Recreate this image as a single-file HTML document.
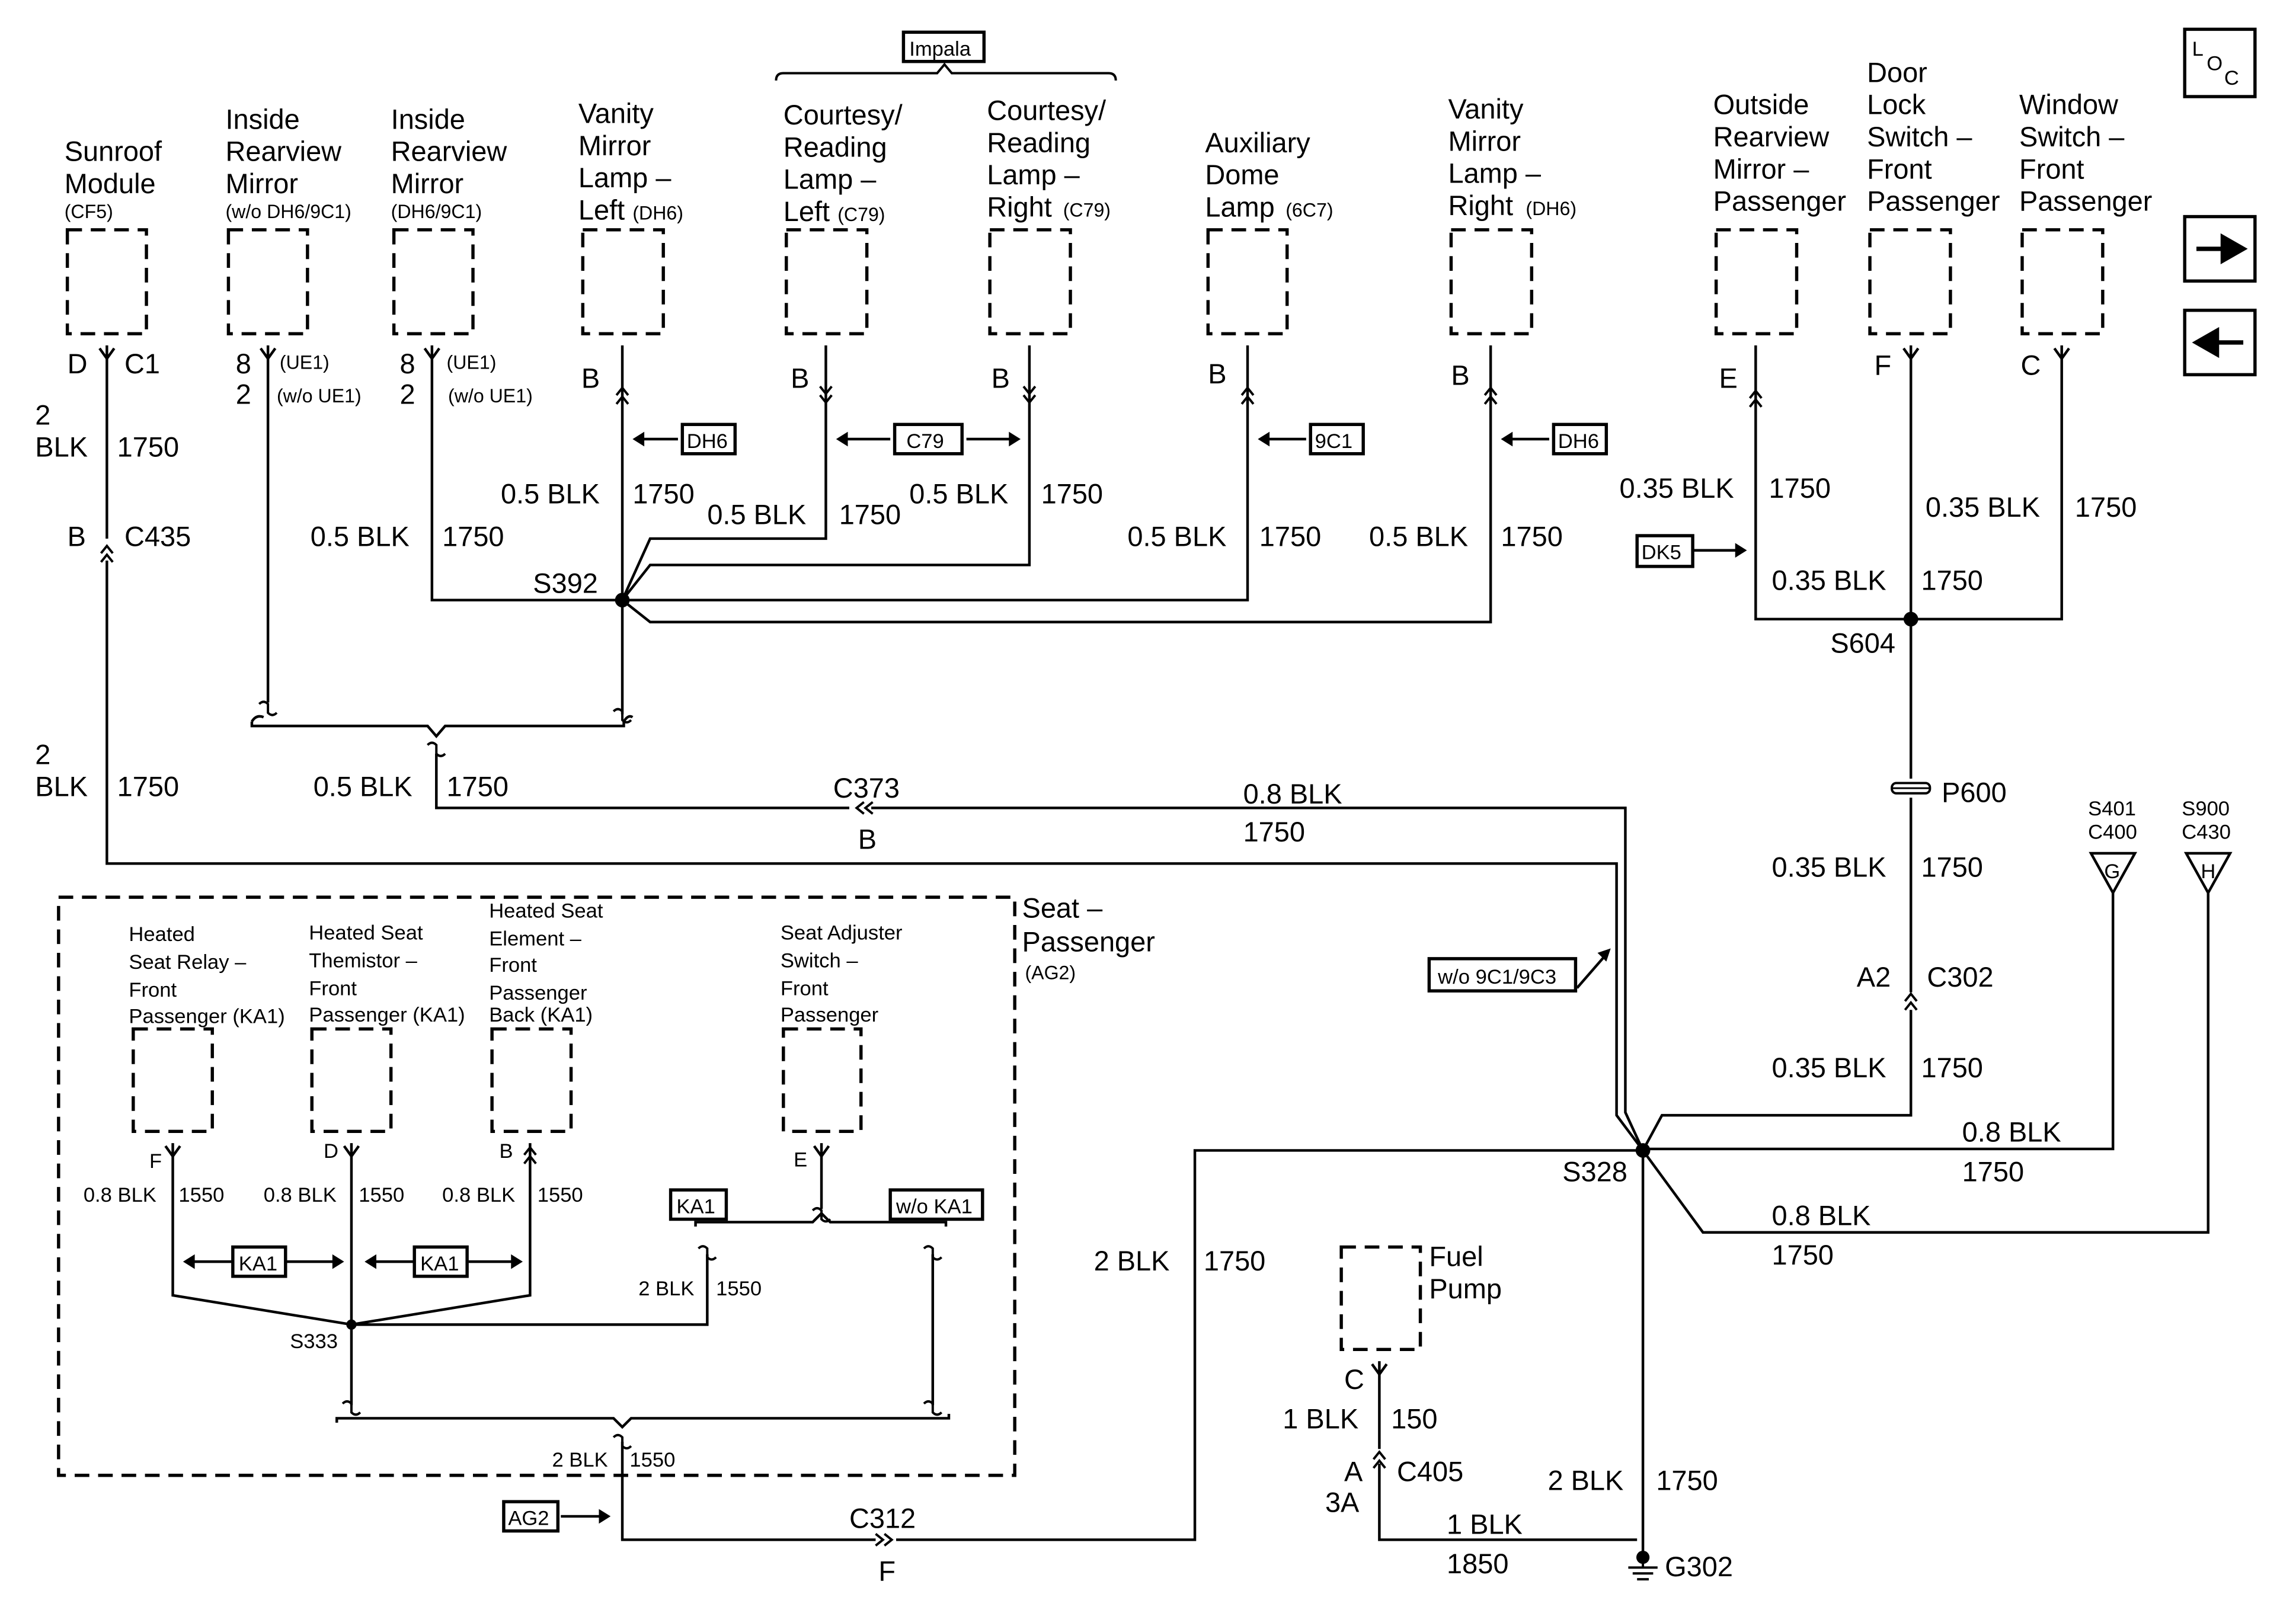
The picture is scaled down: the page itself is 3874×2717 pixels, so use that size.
<!DOCTYPE html>
<html><head><meta charset="utf-8"><style>
html,body{margin:0;padding:0;background:#fff;}
svg{display:block;}
text{font-family:"Liberation Sans",Arial,sans-serif;fill:#000;}
.b{font-size:19px;}
.s{font-size:13px;}
.m{font-size:14px;}
</style></head><body>
<svg width="3874" height="2717" viewBox="0 0 1568 1100" preserveAspectRatio="none" xmlns="http://www.w3.org/2000/svg">
<defs>
<g id="fy"><path d="M-5,-7 L0,0 L5,-7" fill="none" stroke="#000" stroke-width="1.8"/></g>
<g id="up2"><path d="M-4,4 L0,-1 L4,4 M-4,10 L0,5 L4,10" fill="none" stroke="#000" stroke-width="1.6"/></g>
<g id="dn2"><path d="M-4,-4 L0,1 L4,-4 M-4,-10 L0,-5 L4,-10" fill="none" stroke="#000" stroke-width="1.6"/></g>
<g id="lt2"><path d="M4,-4 L-1,0 L4,4 M10,-4 L5,0 L10,4" fill="none" stroke="#000" stroke-width="1.6"/></g>
<g id="rt2"><path d="M-4,-4 L1,0 L-4,4 M-10,-4 L-5,0 L-10,4" fill="none" stroke="#000" stroke-width="1.6"/></g>
<g id="brk"><path d="M-6,-3 Q-3,-6 0,-3 Q0,0 0,3 Q3,6 6,3" fill="none" stroke="#000" stroke-width="1.6"/></g>
</defs>
<g fill="none" stroke="#000" stroke-width="2.2" stroke-dasharray="10,6">
<rect x="46" y="157" width="54" height="71"/>
<rect x="156" y="157" width="54" height="71"/>
<rect x="269" y="157" width="54" height="71"/>
<rect x="398" y="157" width="55" height="71"/>
<rect x="537" y="157" width="55" height="71"/>
<rect x="676" y="157" width="55" height="71"/>
<rect x="825" y="157" width="54" height="71"/>
<rect x="991" y="157" width="55" height="71"/>
<rect x="1172" y="157" width="55" height="71"/>
<rect x="1277" y="157" width="55" height="71"/>
<rect x="1381" y="157" width="55" height="71"/>
<rect x="40" y="613" width="653" height="395"/>
<rect x="91" y="703" width="54" height="70"/>
<rect x="213" y="703" width="54" height="70"/>
<rect x="336" y="703" width="54" height="70"/>
<rect x="535" y="703" width="53" height="70"/>
<rect x="916" y="852" width="54" height="70"/>
</g>
<g fill="none" stroke="#000" stroke-width="1.8">
<path d="M73,236 V368 M73,383 V590 H1104 V762 L1122,786"/>
<path d="M183,236 V480"/>
<path d="M295,236 V410 H425"/>
<path d="M425,236 V488"/>
<path d="M564,236 V368 H444 L425,410"/>
<path d="M703,236 V386 H444 L425,410"/>
<path d="M852,236 V410 H425"/>
<path d="M1018,236 V425 H444 L425,410"/>
<path d="M172,493 Q175,488 180,490 M172,493 V496 H292 L298,503 L304,496 H426 V493 Q429,488 432,490"/>
<path d="M298,515 V552 H580 M595,552 H1110 V760 L1122,786"/>
<path d="M1199,236 V423 H1305 M1305,236 V423 M1408,236 V423 H1305"/>
<path d="M1305,423 V532 M1305,545 V678 M1305,690 V762 H1135 L1122,786"/>
<path d="M1443,610 V785 H1122"/>
<path d="M1508,610 V842 H1163 L1122,786"/>
<path d="M1122,786 V1060"/>
<path d="M1122,786 H816 V1052 H612 M598,1052 H425 V985"/>
<path d="M942,930 V990 M942,1000 V1052 H1118"/>
<path d="M118,781 V885 L240,905 M240,781 V960 M362,781 V885 L240,905 M240,905 H483 V857"/>
<path d="M561,781 V826"/>
<path d="M475,838 V835 H555 L561,829 L567,835 H646 V838"/>
<path d="M637,857 V960"/>
<path d="M230,972 V969 H419 L425,975 L431,969 H648 V966"/>
<path d="M1428,583 H1458 L1443,610 Z M1493,583 H1523 L1508,610 Z"/>
</g>
<g fill="#000">
<circle cx="425" cy="410" r="5"/><circle cx="1305" cy="423" r="5"/><circle cx="1122" cy="786" r="5"/><circle cx="240" cy="905" r="3.5"/><circle cx="1122" cy="1064" r="4.5"/>
</g>
<path d="M1112,1071 H1132 M1115,1075 H1129 M1118,1079 H1126 M1122,1060 V1071" stroke="#000" stroke-width="1.6"/>
<rect x="1292" y="535" width="26" height="7" rx="3" fill="#fff" stroke="#000" stroke-width="1.6"/>
<path d="M1292,538.5 H1318" stroke="#000" stroke-width="1.2"/>
<use href="#fy" x="73" y="245"/><use href="#up2" x="73" y="374"/>
<use href="#fy" x="183" y="245"/><use href="#fy" x="295" y="245"/>
<use href="#up2" x="425" y="266"/><use href="#dn2" x="564" y="274"/><use href="#dn2" x="703" y="274"/>
<use href="#up2" x="852" y="266"/><use href="#up2" x="1018" y="266"/>
<use href="#up2" x="1199" y="268"/><use href="#fy" x="1305" y="245"/><use href="#fy" x="1408" y="245"/>
<use href="#lt2" x="586" y="552"/><use href="#up2" x="1305" y="680"/>
<use href="#fy" x="118" y="790"/><use href="#fy" x="240" y="790"/><use href="#up2" x="362" y="785"/><use href="#fy" x="561" y="790"/>
<use href="#rt2" x="608" y="1052"/><use href="#fy" x="942" y="939"/><use href="#up2" x="942" y="993"/>
<use href="#brk" x="183" y="484"/><use href="#brk" x="425" y="489"/><use href="#brk" x="298" y="512"/>
<use href="#brk" x="561" y="830"/><use href="#brk" x="483" y="856"/><use href="#brk" x="637" y="856"/>
<use href="#brk" x="240" y="962"/><use href="#brk" x="637" y="962"/><use href="#brk" x="425" y="985"/>
<g stroke="#000" stroke-width="1.8" fill="none">
<path d="M435,300 H463 M574,300 H608 M660,300 H694 M862,300 H892 M1028,300 H1058 M1148,376 H1190 M1077,675 L1097,652 M128,862 H158 M196,862 H232 M252,862 H282 M320,862 H354 M383,1036 H414"/>
</g>
<g fill="#000">
<path d="M432,300 l8,-5 v10z M571,300 l8,-5 v10z M697,300 l-8,-5 v10z M859,300 l8,-5 v10z M1025,300 l8,-5 v10z M1193,376 l-8,-5 v10z M1100,648 l-9,3 6,6z M125,862 l8,-5 v10z M235,862 l-8,-5 v10z M249,862 l8,-5 v10z M357,862 l-8,-5 v10z M417,1036 l-8,-5 v10z"/>
</g>
<g fill="#fff" stroke="#000" stroke-width="2.2">
<rect x="466" y="290" width="36" height="20"/><rect x="611" y="290" width="46" height="20"/><rect x="895" y="290" width="36" height="20"/><rect x="1061" y="290" width="36" height="20"/>
<rect x="617" y="22" width="55" height="20"/><rect x="1118" y="366" width="38" height="21"/><rect x="976" y="655" width="100" height="22"/>
<rect x="159" y="852" width="36" height="20"/><rect x="283" y="852" width="36" height="20"/><rect x="458" y="813" width="38" height="20"/><rect x="608" y="813" width="63" height="20"/><rect x="344" y="1026" width="37" height="20"/>
<rect x="1492" y="20" width="48" height="46"/><rect x="1492" y="148" width="48" height="44"/><rect x="1492" y="212" width="48" height="44"/>
</g>
<path d="M530,55 Q530,50 535,50 H640 L645,44 L650,50 H757 Q762,50 762,55" fill="none" stroke="#000" stroke-width="1.6"/>
<path d="M1500,170 H1518 V162 L1532,170 L1518,178 V170 Z M1532,234 H1514 V226 L1500,234 L1514,242 V234 Z" fill="#000" stroke="#000" stroke-width="3"/>
<g class="m">
<text x="469" y="306">DH6</text><text x="619" y="306">C79</text><text x="898" y="306">9C1</text><text x="1064" y="306">DH6</text>
<text x="621" y="38">Impala</text><text x="1121" y="382">DK5</text><text x="982" y="672">w/o 9C1/9C3</text>
<text x="163" y="868">KA1</text><text x="287" y="868">KA1</text><text x="462" y="829">KA1</text><text x="612" y="829">w/o KA1</text><text x="347" y="1042">AG2</text>
</g>
<text x="1497" y="38" class="m">L</text><text x="1507" y="48" class="m">O</text><text x="1519" y="58" class="m">C</text>
<g class="b">
<text x="44" y="110">Sunroof</text><text x="44" y="132">Module</text>
<text x="154" y="88">Inside</text><text x="154" y="110">Rearview</text><text x="154" y="132">Mirror</text>
<text x="267" y="88">Inside</text><text x="267" y="110">Rearview</text><text x="267" y="132">Mirror</text>
<text x="395" y="84">Vanity</text><text x="395" y="106">Mirror</text><text x="395" y="128">Lamp –</text><text x="395" y="150">Left</text>
<text x="535" y="85">Courtesy/</text><text x="535" y="107">Reading</text><text x="535" y="129">Lamp –</text><text x="535" y="151">Left</text>
<text x="674" y="82">Courtesy/</text><text x="674" y="104">Reading</text><text x="674" y="126">Lamp –</text><text x="674" y="148">Right</text>
<text x="823" y="104">Auxiliary</text><text x="823" y="126">Dome</text><text x="823" y="148">Lamp</text>
<text x="989" y="81">Vanity</text><text x="989" y="103">Mirror</text><text x="989" y="125">Lamp –</text><text x="989" y="147">Right</text>
<text x="1170" y="78">Outside</text><text x="1170" y="100">Rearview</text><text x="1170" y="122">Mirror –</text><text x="1170" y="144">Passenger</text>
<text x="1275" y="56">Door</text><text x="1275" y="78">Lock</text><text x="1275" y="100">Switch –</text><text x="1275" y="122">Front</text><text x="1275" y="144">Passenger</text>
<text x="1379" y="78">Window</text><text x="1379" y="100">Switch –</text><text x="1379" y="122">Front</text><text x="1379" y="144">Passenger</text>
<text x="46" y="255">D</text><text x="85" y="255">C1</text>
<text x="161" y="255">8</text><text x="161" y="276">2</text><text x="273" y="255">8</text><text x="273" y="276">2</text>
<text x="397" y="265">B</text><text x="540" y="265">B</text><text x="677" y="265">B</text><text x="825" y="262">B</text><text x="991" y="263">B</text>
<text x="1174" y="265">E</text><text x="1280" y="256">F</text><text x="1380" y="256">C</text>
<text x="24" y="290">2</text><text x="24" y="312">BLK</text><text x="80" y="312">1750</text>
<text x="46" y="373">B</text><text x="85" y="373">C435</text>
<text x="24" y="522">2</text><text x="24" y="544">BLK</text><text x="80" y="544">1750</text>
<text x="212" y="373">0.5 BLK</text><text x="302" y="373">1750</text>
<text x="342" y="344">0.5 BLK</text><text x="432" y="344">1750</text>
<text x="483" y="358">0.5 BLK</text><text x="573" y="358">1750</text>
<text x="621" y="344">0.5 BLK</text><text x="711" y="344">1750</text>
<text x="770" y="373">0.5 BLK</text><text x="860" y="373">1750</text>
<text x="935" y="373">0.5 BLK</text><text x="1025" y="373">1750</text>
<text x="364" y="405">S392</text>
<text x="214" y="544">0.5 BLK</text><text x="305" y="544">1750</text>
<text x="569" y="545">C373</text><text x="586" y="580">B</text>
<text x="849" y="549">0.8 BLK</text><text x="849" y="575">1750</text>
<text x="1106" y="340">0.35 BLK</text><text x="1208" y="340">1750</text>
<text x="1315" y="353">0.35 BLK</text><text x="1417" y="353">1750</text>
<text x="1210" y="403">0.35 BLK</text><text x="1312" y="403">1750</text>
<text x="1250" y="446">S604</text><text x="1326" y="548">P600</text>
<text x="1210" y="599">0.35 BLK</text><text x="1312" y="599">1750</text>
<text x="1268" y="674">A2</text><text x="1316" y="674">C302</text>
<text x="1210" y="736">0.35 BLK</text><text x="1312" y="736">1750</text>
<text x="1340" y="780">0.8 BLK</text><text x="1340" y="807">1750</text>
<text x="1210" y="837">0.8 BLK</text><text x="1210" y="864">1750</text>
<text x="1067" y="807">S328</text>
<text x="698" y="627">Seat –</text><text x="698" y="650">Passenger</text>
<text x="747" y="868">2 BLK</text><text x="822" y="868">1750</text>
<text x="976" y="865">Fuel</text><text x="976" y="887">Pump</text>
<text x="918" y="949">C</text><text x="876" y="976">1 BLK</text><text x="950" y="976">150</text>
<text x="918" y="1012">A</text><text x="954" y="1012">C405</text><text x="905" y="1033">3A</text>
<text x="1057" y="1018">2 BLK</text><text x="1131" y="1018">1750</text>
<text x="988" y="1048">1 BLK</text><text x="988" y="1075">1850</text>
<text x="1137" y="1077">G302</text>
<text x="580" y="1044">C312</text><text x="600" y="1080">F</text>
</g>
<g class="s">
<text x="44" y="149">(CF5)</text><text x="154" y="149">(w/o DH6/9C1)</text><text x="267" y="149">(DH6/9C1)</text>
<text x="432" y="150">(DH6)</text><text x="572" y="151">(C79)</text><text x="726" y="148">(C79)</text><text x="878" y="148">(6C7)</text><text x="1042" y="147">(DH6)</text>
<text x="191" y="252">(UE1)</text><text x="189" y="275">(w/o UE1)</text><text x="305" y="252">(UE1)</text><text x="306" y="275">(w/o UE1)</text>
<text x="700" y="669">(AG2)</text>
</g>
<g class="m">
<text x="1426" y="557">S401</text><text x="1426" y="573">C400</text><text x="1490" y="557">S900</text><text x="1490" y="573">C430</text>
<text x="1437" y="600">G</text><text x="1503" y="600">H</text>
<text x="88" y="643">Heated</text><text x="88" y="662">Seat Relay –</text><text x="88" y="681">Front</text><text x="88" y="699">Passenger (KA1)</text>
<text x="211" y="642">Heated Seat</text><text x="211" y="661">Themistor –</text><text x="211" y="680">Front</text><text x="211" y="698">Passenger (KA1)</text>
<text x="334" y="627">Heated Seat</text><text x="334" y="646">Element –</text><text x="334" y="664">Front</text><text x="334" y="683">Passenger</text><text x="334" y="698">Back (KA1)</text>
<text x="533" y="642">Seat Adjuster</text><text x="533" y="661">Switch –</text><text x="533" y="680">Front</text><text x="533" y="698">Passenger</text>
<text x="102" y="798">F</text><text x="221" y="791">D</text><text x="341" y="791">B</text><text x="542" y="797">E</text>
<text x="57" y="821">0.8 BLK</text><text x="122" y="821">1550</text>
<text x="180" y="821">0.8 BLK</text><text x="245" y="821">1550</text>
<text x="302" y="821">0.8 BLK</text><text x="367" y="821">1550</text>
<text x="436" y="885">2 BLK</text><text x="489" y="885">1550</text>
<text x="198" y="921">S333</text>
<text x="377" y="1002">2 BLK</text><text x="430" y="1002">1550</text>
</g>
</svg>
</body></html>
